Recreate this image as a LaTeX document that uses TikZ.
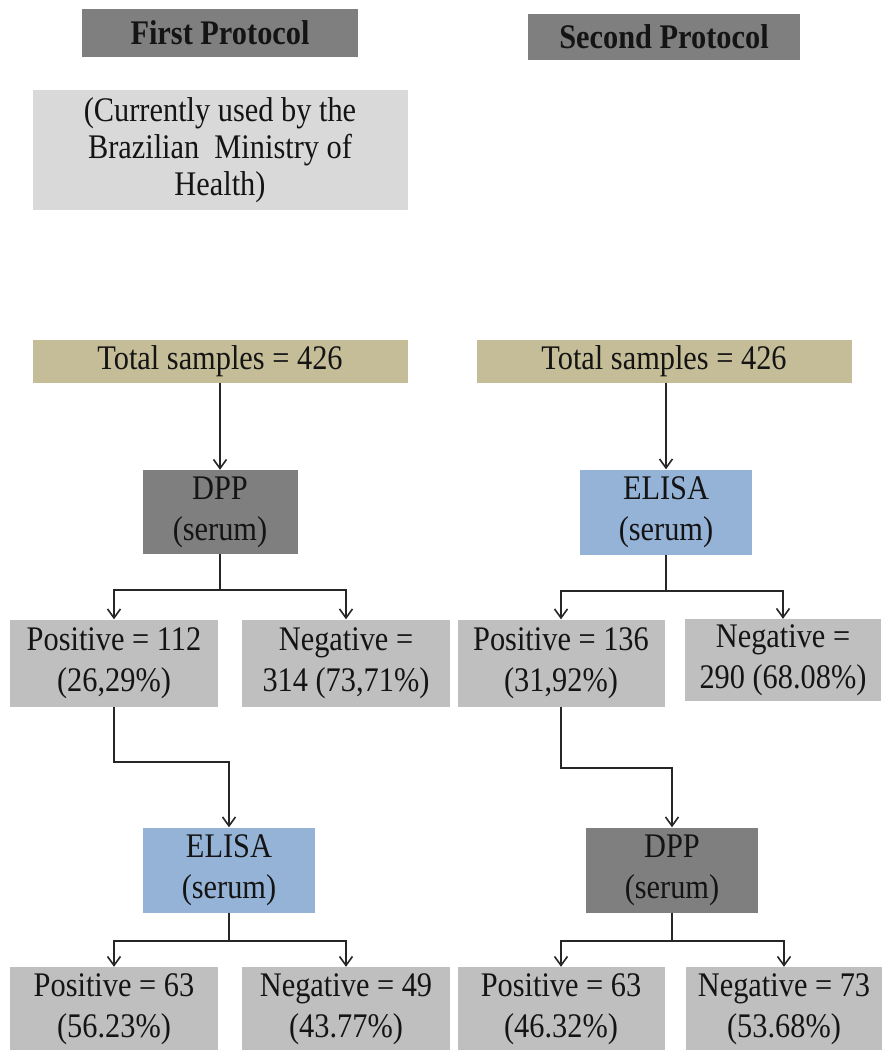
\documentclass[tikz,border=0pt]{standalone}
\usepackage{fontspec}
\setmainfont{Liberation Serif}
\newfontfamily\diagfont{Liberation Serif}[FakeStretch=0.88]
\usetikzlibrary{arrows.meta}
\definecolor{headgray}{HTML}{7F7F7F}
\definecolor{notegray}{HTML}{D9D9D9}
\definecolor{totaltan}{HTML}{C4BD97}
\definecolor{elisablue}{HTML}{95B3D7}
\definecolor{resgray}{HTML}{BFBFBF}

\begin{document}
\begin{tikzpicture}[x=1pt, y=1pt, >={Straight Barb[length=9pt,width=13pt]},
    box/.style={inner sep=0pt, align=center, text=black!92,
      font=\diagfont\fontsize{34.5}{41}\selectfont},
    sz/.style 2 args={minimum width=#1pt, minimum height=#2pt},
    head/.style={box, fill=headgray, font=\diagfont\fontsize{34.5}{41}\selectfont\bfseries},
    dpp/.style={box, fill=headgray, sz={155}{84}},
    elisa/.style={box, fill=elisablue, sz={172}{85}},
    res/.style={box, fill=resgray},
    arr/.style={->, line width=1.6pt, black!85}]

      \useasboundingbox (0, 0) rectangle (886, -1050);

      % headers
      \node[head, sz={276}{48}] (hdA) at (220, -33) {First Protocol};
      \node[head, sz={272}{46}] (hdB) at (664, -37) {Second Protocol};
      \node[box, fill=notegray, sz={375}{120}, font=\diagfont\fontsize{34.5}{37}\selectfont] (note) at (220, -150)
        {(Currently used by the\\Brazilian~ Ministry of\\Health)};

      % first protocol
      \node[box, fill=totaltan, sz={375}{43}] (totA) at (220, -361) {Total samples = 426};
      \node[dpp] (testA1) at (220, -512) {DPP\\(serum)};
      \node[res, sz={208}{87}] (posA) at (114, -663) {Positive = 112\\(26,29\%)};
      \node[res, sz={208}{87}] (negA) at (346, -663) {Negative =\\314 (73,71\%)};
      \node[elisa] (testA2) at (229, -870) {ELISA\\(serum)};
      \node[res, sz={208}{84}] (posA2) at (114, -1009) {Positive = 63\\(56.23\%)};
      \node[res, sz={208}{84}] (negA2) at (346, -1009) {Negative = 49\\(43.77\%)};

      % second protocol
      \node[box, fill=totaltan, sz={375}{43}] (totB) at (664, -361) {Total samples = 426};
      \node[elisa] (testB1) at (666, -512) {ELISA\\(serum)};
      \node[res, sz={207}{87}] (posB) at (561, -663) {Positive = 136\\(31,92\%)};
      \node[res, sz={196}{82}] (negB) at (783, -660) {Negative =\\290 (68.08\%)};
      \node[dpp, sz={172}{85}] (testB2) at (672, -870) {DPP\\(serum)};
      \node[res, sz={207}{84}] (posB2) at (561, -1009) {Positive = 63\\(46.32\%)};
      \node[res, sz={196}{84}] (negB2) at (784, -1009) {Negative = 73\\(53.68\%)};

      % connectors
      \draw[arr] (totA) -- (testA1);
      \draw[arr] (testA1.south) -- ++(0, -36) -| (posA.north);
      \draw[arr] (testA1.south) -- ++(0, -36) -| (negA.north);
      \draw[arr] (posA.south) -- ++(0, -55) -| (testA2.north);
      \draw[arr] (testA2.south) -- ++(0, -28) -| (posA2.north);
      \draw[arr] (testA2.south) -- ++(0, -28) -| (negA2.north);

      \draw[arr] (totB.south -| testB1.north) -- (testB1.north);
      \draw[arr] (testB1.south) -- ++(0, -36) -| (posB.north);
      \draw[arr] (testB1.south) -- ++(0, -36) -| (negB.north);
      \draw[arr] (posB.south) -- ++(0, -61) -| (testB2.north);
      \draw[arr] (testB2.south) -- ++(0, -28) -| (posB2.north);
      \draw[arr] (testB2.south) -- ++(0, -28) -| (negB2.north);
    \end{tikzpicture}
\end{document}
